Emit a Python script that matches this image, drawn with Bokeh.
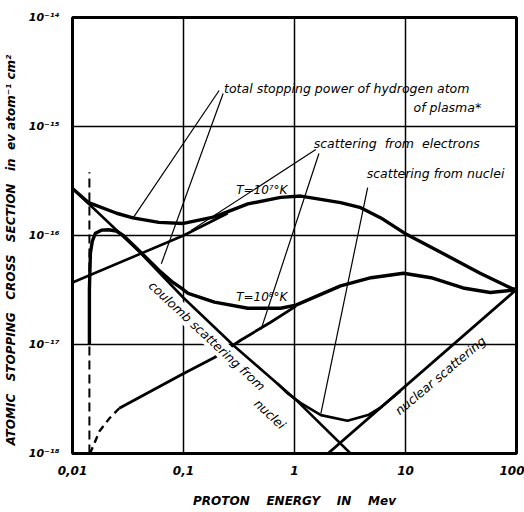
from bokeh.plotting import figure
from bokeh.models import FixedTicker
from bokeh.core.properties import value
from bokeh.embed import file_html
from bokeh.resources import INLINE

# ---------------- data ----------------
energy_ticks = [0.01, 0.1, 1, 10, 100]
energy_tick_labels = ["0,01", "0,1", "1", "10", "100"]
sigma_ticks = [1e-18, 1e-17, 1e-16, 1e-15, 1e-14]
sigma_tick_labels = ["10\u207b\u00b9\u2078", "10\u207b\u00b9\u2077", "10\u207b\u00b9\u2076",
                     "10\u207b\u00b9\u2075", "10\u207b\u00b9\u2074"]

# total stopping power, T = 10^7 K
t7_energy = [0.01, 0.014, 0.025, 0.035, 0.06, 0.1, 0.19, 0.38, 0.75, 1.14, 2.6, 3.95, 6.0,
             9.8, 22, 47, 92, 100]
t7_sigma = [2.7e-16, 2.0e-16, 1.6e-16, 1.45e-16, 1.32e-16, 1.29e-16, 1.48e-16, 1.95e-16,
            2.24e-16, 2.3e-16, 2.0e-16, 1.8e-16, 1.45e-16, 1.05e-16, 6.8e-17, 4.5e-17,
            3.25e-17, 3.2e-17]

# total stopping power, T = 10^8 K
t8_energy = [0.0142, 0.0142, 0.0145, 0.0151, 0.0161, 0.0182, 0.021, 0.0248, 0.0287, 0.0376,
             0.06, 0.078, 0.095, 0.11, 0.19, 0.38, 0.75, 1.03, 2.6, 4.9, 9.6, 17, 33, 58,
             92, 100]
t8_sigma = [1.0e-17, 3.2e-17, 6.9e-17, 8.9e-17, 1.05e-16, 1.12e-16, 1.13e-16, 1.1e-16,
            1.0e-16, 7.7e-17, 4.8e-17, 3.8e-17, 3.3e-17, 2.95e-17, 2.45e-17, 2.15e-17,
            2.15e-17, 2.3e-17, 3.45e-17, 4.1e-17, 4.5e-17, 4.1e-17, 3.3e-17, 3.0e-17,
            3.15e-17, 3.2e-17]

# coulomb scattering from nuclei
coulomb_energy = [0.01, 0.04, 0.0993, 0.286, 1.0, 3.2]
coulomb_sigma = [2.7e-16, 7.1e-17, 2.7e-17, 9.7e-18, 3.2e-18, 1.0e-18]

# scattering from nuclei (coulomb + nuclear)
nuclei_energy = [0.7, 0.87, 1.14, 1.73, 3.0, 4.6, 6.0, 9.0]
nuclei_sigma = [4.4e-18, 3.55e-18, 2.9e-18, 2.25e-18, 2.0e-18, 2.25e-18, 2.65e-18, 3.75e-18]

# nuclear scattering
nuclear_energy = [2.0, 100]
nuclear_sigma = [1.0e-18, 3.2e-17]

# scattering from electrons, T = 10^7 K
e7_energy = [0.01, 0.1, 0.25]
e7_sigma = [3.7e-17, 1.0e-16, 1.6e-16]

# scattering from electrons, T = 10^8 K (dashed low-energy part, then solid)
e8d_energy = [0.0142, 0.0148, 0.0175, 0.0215, 0.0264]
e8d_sigma = [1.0e-18, 1.07e-18, 1.6e-18, 2.1e-18, 2.6e-18]
e8_energy = [0.0264, 0.0993, 0.19, 0.33, 0.61, 1.03]
e8_sigma = [2.6e-18, 5.4e-18, 7.6e-18, 1.1e-17, 1.6e-17, 2.25e-17]

# thermal energy marker (vertical dashed)
thermal_energy = [0.0142, 0.0142]
thermal_sigma = [1.0e-18, 3.8e-16]

# ---------------- figure ----------------
FONT = "DejaVu Sans"
p = figure(width=524, height=512, x_axis_type="log", y_axis_type="log",
           x_range=(0.01, 100), y_range=(1e-18, 1e-14),
           output_backend="svg", toolbar_location=None,
           min_border_left=71, min_border_right=8, min_border_top=17, min_border_bottom=59)
p.background_fill_color = "white"
p.border_fill_color = "white"
p.outline_line_color = "black"
p.outline_line_width = 3
p.outline_line_alpha = 1.0

p.xaxis.ticker = FixedTicker(ticks=energy_ticks, minor_ticks=[])
p.yaxis.ticker = FixedTicker(ticks=sigma_ticks, minor_ticks=[])
p.xaxis.major_label_overrides = dict(zip(energy_ticks, energy_tick_labels))
p.yaxis.major_label_overrides = dict(zip(sigma_ticks, sigma_tick_labels))

for ax in (p.xaxis, p.yaxis):
    ax.axis_line_color = None
    ax.major_tick_line_color = None
    ax.minor_tick_line_color = None
    ax.major_label_text_font = FONT
    ax.major_label_text_font_style = "bold italic"
    ax.major_label_text_font_size = "12px"
    ax.major_label_text_color = "black"
    ax.axis_label_text_font = FONT
    ax.axis_label_text_font_style = "bold italic"
    ax.axis_label_text_font_size = "12px"
    ax.axis_label_text_color = "black"
p.yaxis.major_label_text_font_size = "11px"

NB = "\u00a0"
p.xaxis.axis_label = (NB * 4).join(["PROTON", "ENERGY", "IN", "Mev"])
p.xaxis.major_label_standoff = 6
p.xaxis.axis_label_standoff = 16
p.yaxis.axis_label = ((NB * 3).join(["ATOMIC", "STOPPING", "CROSS", "SECTION", "in"])
                      + NB * 2 + "ev" + NB + "atom\u207b\u00b9" + NB + "cm\u00b2" + NB * 7)
p.yaxis.major_label_standoff = 7
p.yaxis.axis_label_standoff = 8

for g in (p.xgrid, p.ygrid):
    g.grid_line_color = "black"
    g.grid_line_width = 1.5
    g.grid_line_alpha = 1.0

# ---------------- curves ----------------
p.line(thermal_energy, thermal_sigma, line_color="black", line_width=2, line_dash="9 5")
p.line(coulomb_energy, coulomb_sigma, line_color="black", line_width=2.6)
p.line(nuclear_energy, nuclear_sigma, line_color="black", line_width=2.8)
p.line(nuclei_energy, nuclei_sigma, line_color="black", line_width=2.6)
p.line(e7_energy, e7_sigma, line_color="black", line_width=2.6)
p.line(e8d_energy, e8d_sigma, line_color="black", line_width=2.4, line_dash="7 5")
p.line(e8_energy, e8_sigma, line_color="black", line_width=2.8)
p.line(t7_energy, t7_sigma, line_color="black", line_width=3.4)
p.line(t8_energy, t8_sigma, line_color="black", line_width=3.4)

# ---------------- leader lines (annotation layout) ----------------
lead_x0 = [0.2094, 0.2276, 1.556, 1.66, 4.56]
lead_y0 = [2.14e-15, 2.01e-15, 6.15e-16, 5.65e-16, 2.75e-16]
lead_x1 = [0.0353, 0.0631, 0.117, 0.499, 1.73]
lead_y1 = [1.46e-16, 5.5e-17, 1.11e-16, 1.37e-17, 2.33e-18]
p.segment(lead_x0, lead_y0, lead_x1, lead_y1, line_color="black", line_width=1.2)

# ---------------- annotation texts ----------------
def label(x, y, txt, angle=0.0, align="left", size="12.5px", bg=None):
    r = p.text(x=[x], y=[y], text=[txt], angle=angle, text_align=align, text_baseline="middle",
               text_font=value(FONT), text_font_style="italic", text_font_size=size,
               text_color="black")
    if bg:
        r.glyph.background_fill_color = bg
        r.glyph.padding = 1

label(0.232, 2.23e-15, "total stopping power of hydrogen atom")
label(11.8, 1.49e-15, "of plasma*")
label(1.49, 6.98e-16, "scattering" + NB * 2 + "from" + NB * 2 + "electrons")
label(4.47, 3.71e-16, "scattering from nuclei")
label(0.298, 2.59e-16, "T=10\u2077\u00b0K", size="12px")
label(0.298, 2.7e-17, "T=10\u2078\u00b0K", size="12px")
label(0.163, 1.2e-17, "coulomb scattering from", angle=-0.75, align="center", bg="white")
label(0.6, 2.3e-18, "nuclei", angle=-0.75, align="center")
label(20.6, 5.2e-18, "nuclear scattering", angle=0.70, align="center")

open("out.html", "w").write(file_html(p, INLINE))
